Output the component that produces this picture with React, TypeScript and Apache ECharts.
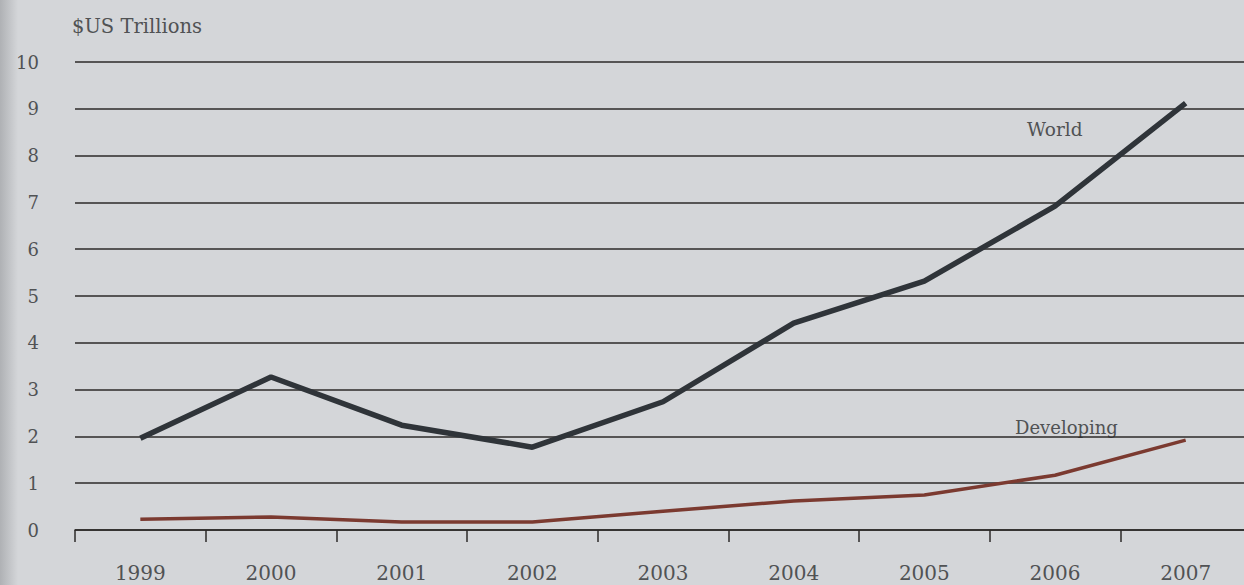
import React, { useEffect, useRef } from "react";
import * as echarts from "echarts";

const years = ["1999", "2000", "2001", "2002", "2003", "2004", "2005", "2006", "2007"];
const world = [1.96, 3.27, 2.24, 1.77, 2.74, 4.42, 5.32, 6.92, 9.12];
const developing = [0.23, 0.28, 0.17, 0.17, 0.4, 0.62, 0.75, 1.17, 1.92];
const yTicks = [0, 1, 2, 3, 4, 5, 6, 7, 8, 9, 10];

const FONT = "DejaVu Serif";
const TEXT = "#505254";

export default function App() {
  const ref = useRef<HTMLDivElement>(null);
  useEffect(() => {
    const chart = echarts.init(ref.current!, null, { renderer: "svg" });
    chart.setOption({
      animation: false,
      backgroundColor: "#d4d6d9",
      grid: { left: 75, width: 1176, top: 62, bottom: 55, containLabel: false, outerBoundsMode: "none" },
      xAxis: {
        type: "category",
        data: years,
        boundaryGap: true,
        axisLine: { lineStyle: { color: "#2c2a28", width: 1.5 } },
        axisTick: { show: true, length: 12, lineStyle: { color: "#2c2a28", width: 1.5 } },
        axisLabel: { color: TEXT, fontFamily: FONT, fontSize: 20, margin: 33 },
        splitLine: { show: false },
      },
      yAxis: {
        type: "value",
        min: yTicks[0],
        max: yTicks[yTicks.length - 1],
        interval: 1,
        axisLine: { show: false },
        axisTick: { show: false },
        axisLabel: { color: TEXT, fontFamily: FONT, fontSize: 18, margin: 36, padding: [6, 0, 0, 0] },
        splitLine: { show: true, lineStyle: { color: "#2c2a28", width: 1.5 } },
      },
      series: [
        {
          name: "World",
          type: "line",
          data: world,
          symbol: "none",
          lineStyle: { color: "#2f3439", width: 5.5 },
          z: 3,
        },
        {
          name: "Developing",
          type: "line",
          data: developing,
          symbol: "none",
          lineStyle: { color: "#7b3a30", width: 3.5 },
          z: 3,
        },
      ],
      graphic: [
        {
          type: "rect",
          left: 0,
          top: 0,
          shape: { width: 18, height: 585 },
          style: {
            fill: new echarts.graphic.LinearGradient(0, 0, 1, 0, [
              { offset: 0, color: "rgba(130,132,136,0.45)" },
              { offset: 1, color: "rgba(130,132,136,0)" },
            ]),
          },
          z: -1,
        },
        {
          type: "text",
          x: 72,
          y: 26,
          style: { text: "$US Trillions", fill: TEXT, font: `19.5px "${FONT}"`, verticalAlign: "middle" },
        },
        {
          type: "text",
          x: 1027,
          y: 129,
          style: { text: "World", fill: TEXT, font: `18.5px "${FONT}"`, verticalAlign: "middle" },
        },
        {
          type: "text",
          x: 1015,
          y: 427,
          style: { text: "Developing", fill: TEXT, font: `18px "${FONT}"`, verticalAlign: "middle" },
        },
      ],
    });
    return () => chart.dispose();
  }, []);
  return <div ref={ref} style={{ width: 1244, height: 585, position: "fixed", left: 0, top: 0 }} />;
}
